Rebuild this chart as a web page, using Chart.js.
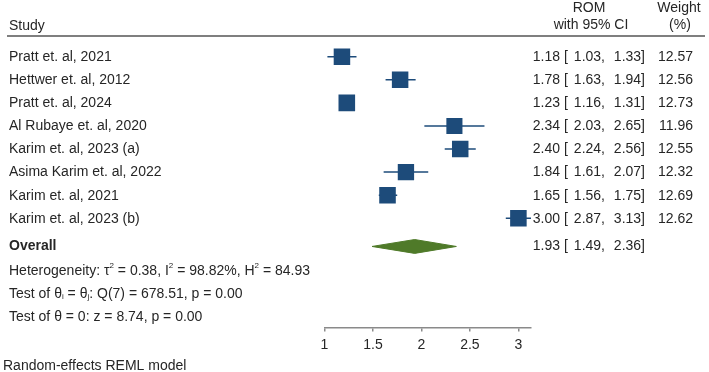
<!DOCTYPE html>
<html>
<head>
<meta charset="utf-8">
<script src="https://cdn.jsdelivr.net/npm/chart.js@4"></script>
<style>
  body { margin: 0; background: #fff; }
  canvas { display: block; }
</style>
</head>
<body>
<canvas id="forest" width="709" height="372"></canvas>
<script>
const studies = ['Pratt et. al, 2021', 'Hettwer et. al, 2012', 'Pratt et. al, 2024', 'Al Rubaye et. al, 2020',
    'Karim et. al, 2023 (a)', 'Asima Karim et. al, 2022', 'Karim et. al, 2021', 'Karim et. al, 2023 (b)'];
const rom = [1.18, 1.78, 1.23, 2.34, 2.40, 1.84, 1.65, 3.00];
const ciLow = [1.03, 1.63, 1.16, 2.03, 2.24, 1.61, 1.56, 2.87];
const ciHigh = [1.33, 1.94, 1.31, 2.65, 2.56, 2.07, 1.75, 3.13];
const weights = [12.57, 12.56, 12.73, 11.96, 12.55, 12.32, 12.69, 12.62];
const overall = { est: 1.93, lo: 1.49, hi: 2.36 };
const xTicks = [1, 1.5, 2, 2.5, 3];

const FONT = '"Liberation Sans", Arial, sans-serif';
const BLUE = '#1d4b7a', GREEN = '#4f7a29', TXT = '#262626';
const overallRow = studies.length + 1.22;

const ciSets = studies.map((s, i) => ({
    type: 'line', data: [{ x: ciLow[i], y: i + 1 }, { x: ciHigh[i], y: i + 1 }],
    borderColor: BLUE, borderWidth: 1.5, pointRadius: 0, order: 2
}));

const squareSet = {
    type: 'scatter',
    data: rom.map((v, i) => ({ x: v, y: i + 1 })),
    pointStyle: 'rect',
    pointRadius: weights.map(w => 16.6 * Math.sqrt(w / 12.73) / Math.SQRT2),
    backgroundColor: BLUE, borderWidth: 0, order: 1
};

const diamondSet = {
    type: 'line',
    data: [{ x: overall.lo, y: overallRow }, { x: overall.est, y: overallRow - 0.3 }, { x: overall.hi, y: overallRow },
        { x: overall.est, y: overallRow + 0.3 }, { x: overall.lo, y: overallRow }],
    borderColor: GREEN, backgroundColor: GREEN, borderWidth: 1, pointRadius: 0, fill: 'shape', tension: 0, order: 1
};

function rich(ctx, parts, x, y) {
    parts.forEach(p => {
        const t = typeof p === 'string' ? p : p[0];
        const m = typeof p === 'string' ? null : p[1];
        ctx.font = (m ? '8px ' : '14px ') + FONT;
        const dy = m === 'sup' ? -6 : m === 'sub' ? 3 : 0;
        ctx.fillText(t, x, y + dy);
        x += ctx.measureText(t).width;
    });
}

const textPlugin = {
    id: 'forestText',
    afterDraw(chart) {
        const ctx = chart.ctx, ys = chart.scales.y;
        ctx.save();
        ctx.fillStyle = TXT;
        ctx.textBaseline = 'middle';
        ctx.font = '14px ' + FONT;

        // header
        ctx.textAlign = 'left';
        ctx.fillText('Study', 9, 26);
        ctx.textAlign = 'center';
        ctx.fillText('ROM', 589, 8);
        ctx.fillText('with 95% CI', 591, 25);
        ctx.fillText('Weight', 679, 8);
        ctx.fillText('(%)', 680, 25);
        ctx.strokeStyle = '#555';
        ctx.lineWidth = 1.5;
        ctx.beginPath(); ctx.moveTo(7, 36); ctx.lineTo(705, 36); ctx.stroke();

        studies.forEach((s, i) => {
            const y = ys.getPixelForValue(i + 1) + 0.5;
            ctx.textAlign = 'left';
            ctx.fillText(s, 9, y);
            ctx.fillText('[', 564, y);
            ctx.textAlign = 'right';
            ctx.fillText(rom[i].toFixed(2), 560, y);
            ctx.fillText(ciLow[i].toFixed(2) + ',', 605, y);
            ctx.fillText(ciHigh[i].toFixed(2) + ']', 645, y);
            ctx.fillText(weights[i].toFixed(2), 693, y);
        });

        const yo = ys.getPixelForValue(overallRow);
        ctx.textAlign = 'left';
        ctx.font = 'bold 14px ' + FONT;
        ctx.fillText('Overall', 9, yo);
        ctx.font = '14px ' + FONT;
        ctx.fillText('[', 564, yo);
        ctx.textAlign = 'right';
        ctx.fillText(overall.est.toFixed(2), 560, yo);
        ctx.fillText(overall.lo.toFixed(2) + ',', 605, yo);
        ctx.fillText(overall.hi.toFixed(2) + ']', 645, yo);

        ctx.textAlign = 'left';
        rich(ctx, ['Heterogeneity: τ', ['2', 'sup'], ' = 0.38, I', ['2', 'sup'], ' = 98.82%, H', ['2', 'sup'], ' = 84.93'],
            9, ys.getPixelForValue(overallRow + 1.08));
        rich(ctx, ['Test of θ', ['i', 'sub'], ' = θ', ['j', 'sub'], ': Q(7) = 678.51, p = 0.00'],
            9, ys.getPixelForValue(overallRow + 2.06));
        rich(ctx, ['Test of θ = 0: z = 8.74, p = 0.00'], 9, ys.getPixelForValue(overallRow + 3.07));
        ctx.font = '14px ' + FONT;
        ctx.fillText('Random-effects REML model', 3, 366);
        ctx.restore();
    }
};

new Chart(document.getElementById('forest'), {
    type: 'scatter',
    data: { datasets: [...ciSets, squareSet, diamondSet] },
    options: {
        responsive: false,
        animation: false,
        events: [],
        layout: { padding: { left: 324.5, right: 178, top: 33.6, bottom: 0 } },
        plugins: { legend: { display: false }, tooltip: { enabled: false } },
        scales: {
            x: {
                type: 'linear', min: 1, max: 3.13,
                afterBuildTicks: s => { s.ticks = xTicks.map(v => ({ value: v })); },
                afterFit: s => { s.height = 44.5; },
                border: { display: true, color: '#8a8a8a', width: 1.5 },
                grid: { drawOnChartArea: false, drawTicks: true, tickLength: 4, color: '#8a8a8a', lineWidth: 1.5 },
                ticks: { color: TXT, padding: 5, font: { family: FONT, size: 14 }, callback: v => String(v) }
            },
            y: { type: 'linear', display: false, reverse: true, min: 0, max: 12.73 }
        }
    },
    plugins: [textPlugin]
});
</script>
</body>
</html>
